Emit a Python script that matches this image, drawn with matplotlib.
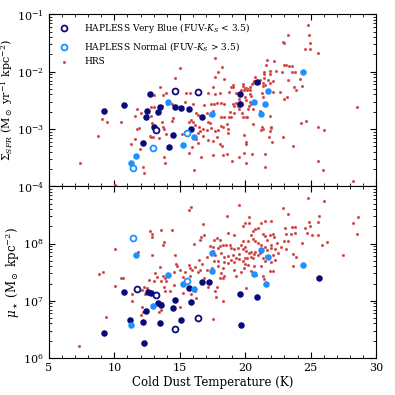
import numpy as np
import matplotlib
matplotlib.use("Agg")
import matplotlib.pyplot as plt
from matplotlib.ticker import MultipleLocator, LogLocator, NullFormatter

plt.rcParams['font.family'] = 'DejaVu Serif'
plt.rcParams['mathtext.fontset'] = 'dejavuserif'

# HAPLESS very blue (FUV-Ks < 3.5), filled and open
vb_t_sfr = [9.18, 10.77, 12.74, 12.51, 12.41, 13.31, 13.49, 13.03, 12.18, 14.18,
            14.51, 14.64, 15.08, 15.67, 15.85, 16.72, 19.62, 19.59, 20.87]
vb_sfr = [2.1e-3, 2.6e-3, 4.1e-3, 2.1e-3, 1.6e-3, 1.95e-3, 2.4e-3, 1.07e-3, 5.6e-4, 4.8e-4,
          7.9e-4, 2.4e-3, 2.35e-3, 2.2e-3, 1.0e-3, 1.6e-3, 4.1e-3, 2.7e-3, 6.7e-3]
vb_open_t_sfr = [14.62, 16.36, 13.18]
vb_open_sfr = [4.6e-3, 4.4e-3, 9.5e-4]

vb_t_mu = [9.2, 10.77, 11.18, 12.15, 12.26, 12.44, 12.54, 12.77, 13.31, 13.54, 14.64,
           14.51, 13.49, 15.08, 15.67, 15.85, 16.69, 17.26, 19.59, 19.64, 20.87, 25.64]
vb_mu = [2.7e6, 1.4e7, 4.6e6, 4.3e6, 1.8e6, 6.7e6, 1.4e7, 1.37e7, 9.3e6, 8.3e6, 1.05e7,
         7.4e6, 4.1e6, 4.6e6, 1.7e7, 9.6e6, 2.1e7, 2.1e7, 1.3e7, 3.7e6, 1.15e7, 2.5e7]
vb_open_t_mu = [11.69, 13.18, 16.36, 14.62]
vb_open_mu = [1.6e7, 1.26e7, 5.0e6, 3.2e6]

# HAPLESS normal (FUV-Ks > 3.5)
nm_t_sfr = [14.1, 11.28, 11.64, 15.28, 16.05, 17.49, 20.69, 21.74, 21.54, 21.23, 24.44]
nm_sfr = [2.9e-3, 2.6e-4, 3.4e-4, 5.2e-4, 7.3e-4, 1.8e-3, 3.0e-3, 4.6e-3, 2.7e-3, 1.8e-3, 9.8e-3]
nm_open_t_sfr = [11.46, 12.92, 15.54]
nm_open_sfr = [2.1e-4, 4.7e-4, 8.7e-4]

nm_t_mu = [11.67, 11.28, 12.95, 14.13, 15.28, 16.1, 17.44, 17.49, 20.69, 21.23, 21.74, 21.56, 24.44]
nm_mu = [6.2e7, 3.8e6, 8.2e6, 2.8e7, 2.0e7, 1.6e7, 6.9e7, 3.3e7, 2.9e7, 7.8e7, 5.8e7, 1.95e7, 4.3e7]
nm_open_t_mu = [11.46, 15.54]
nm_open_mu = [1.26e8, 2.2e7]

# HRS sample, SFR surface density
hrs_t_sfr = [
    24.77, 23.28, 24.87, 22.92, 23.0, 24.95, 24.97, 24.54, 25.59, 17.72, 21.67, 22.2, 21.56,
    23.15, 22.97, 23.36, 23.56, 18.2, 21.92, 22.38, 22.82, 23.54, 23.8, 17.9, 21.44, 21.46,
    21.92, 20.72, 21.44, 21.13, 21.72, 22.1, 23.28, 18.41, 24.18, 20.64, 20.56, 20.49, 21.05,
    21.38, 21.33, 21.54, 21.92, 19.8, 19.8, 19.05, 18.92, 19.1, 20.05, 19.95, 20.23, 20.38,
    20.15, 19.9, 20.33, 17.54, 23.72, 24.31, 17.67, 18.1, 19.31, 18.77, 19.64, 20.36, 20.44,
    21.28, 22.64, 22.15, 23.87, 21.33, 23.23, 22.95, 19.49, 19.95, 20.05, 19.62, 19.26, 19.05,
    19.18, 19.44, 19.77, 20.26, 19.56, 18.36, 18.18, 17.39, 17.87, 17.62, 20.33, 20.41, 20.23,
    20.62, 17.51, 18.8, 19.13, 18.74, 18.92, 18.13, 18.38, 19.82, 20.03, 20.15, 19.72, 21.15,
    21.9, 20.56, 18.62, 18.18, 18.33, 18.69, 17.39, 17.72, 17.95, 18.72, 17.85, 21.26, 21.33,
    21.95, 22.0, 21.23, 21.9, 24.28, 24.62, 25.59, 26.03, 20.03, 19.87, 20.08, 21.8, 22.87,
    22.08, 23.62, 18.08, 18.26, 17.54, 18.28, 18.64, 19.87, 19.49, 20.54, 19.0, 20.05, 21.49,
    21.49, 25.59, 25.97, 28.26, 28.54,
    15.03, 14.64, 17.72, 13.51, 13.03, 13.74, 13.97, 15.46, 15.79, 17.15, 11.72, 12.77, 13.03,
    12.03, 12.38, 13.67, 14.05, 14.44, 15.41, 16.0, 16.82, 16.26, 16.41, 17.1, 17.28, 9.08,
    9.46, 10.51, 11.56, 12.41, 12.79, 14.46, 14.38, 15.82, 15.72, 16.03, 17.15, 17.33, 12.85,
    13.67, 13.74, 13.82, 11.69, 11.9, 16.13, 16.44, 17.1, 16.74, 16.56, 16.36, 16.77, 13.36,
    13.97, 15.13, 15.46, 12.72, 12.82, 12.95, 13.38, 8.74, 11.54, 17.51, 17.15, 16.23, 16.41,
    11.26, 15.97, 11.95, 15.74, 16.64, 13.79, 13.87, 12.15, 12.26, 16.1, 7.36, 10.03]
hrs_sfr = [
    6.6e-2, 4.3e-2, 4.4e-2, 3.3e-2, 3.1e-2, 3.2e-2, 2.5e-2, 2.5e-2, 2.1e-2, 1.7e-2, 1.6e-2,
    1.56e-2, 1.3e-2, 1.33e-2, 1.3e-2, 1.26e-2, 1.26e-2, 1.2e-2, 1.02e-2, 1.02e-2, 1.0e-2,
    1.0e-2, 1.0e-2, 9.7e-3, 1.0e-2, 9.1e-3, 9.1e-3, 8.0e-3, 7.7e-3, 7.2e-3, 7.2e-3, 6.8e-3,
    7.2e-3, 7.4e-3, 7.5e-3, 6.9e-3, 6.4e-3, 6.1e-3, 6.3e-3, 6.4e-3, 5.6e-3, 5.8e-3, 6.3e-3,
    6.1e-3, 5.6e-3, 5.8e-3, 5.5e-3, 5.4e-3, 5.1e-3, 5.1e-3, 5.0e-3, 5.4e-3, 4.8e-3, 4.7e-3,
    4.7e-3, 5.5e-3, 5.4e-3, 5.6e-3, 4.1e-3, 4.2e-3, 4.2e-3, 4.4e-3, 4.7e-3, 4.0e-3, 3.7e-3,
    4.2e-3, 4.4e-3, 4.4e-3, 4.7e-3, 3.6e-3, 3.6e-3, 3.3e-3, 3.3e-3, 3.6e-3, 3.2e-3, 2.9e-3,
    2.8e-3, 2.7e-3, 2.5e-3, 2.5e-3, 2.7e-3, 2.5e-3, 2.2e-3, 2.7e-3, 2.8e-3, 2.7e-3, 2.8e-3,
    2.7e-3, 3.0e-3, 2.7e-3, 2.2e-3, 2.2e-3, 2.1e-3, 2.0e-3, 1.9e-3, 1.6e-3, 1.65e-3, 1.6e-3,
    1.6e-3, 1.65e-3, 1.6e-3, 1.65e-3, 1.9e-3, 2.1e-3, 1.7e-3, 1.2e-3, 1.2e-3, 1.15e-3, 1.1e-3,
    1.0e-3, 1.05e-3, 9.1e-4, 9.8e-4, 8.5e-4, 7.3e-4, 1.1e-3, 1.0e-3, 1.05e-3, 1.1e-3, 9.5e-4,
    9.1e-4, 1.26e-3, 1.4e-3, 1.07e-3, 9.8e-4, 6.0e-4, 7.9e-4, 5.4e-4, 7.2e-4, 7.4e-4, 5.9e-4,
    5.1e-4, 5.4e-4, 5.1e-4, 3.5e-4, 3.5e-4, 3.7e-4, 3.8e-4, 3.3e-4, 3.7e-4, 2.8e-4, 2.6e-4,
    3.7e-4, 2.2e-4, 2.8e-4, 1.9e-4, 1.23e-4, 2.45e-3,
    1.18e-2, 7.7e-3, 8.2e-3, 5.3e-3, 3.9e-3, 3.9e-3, 4.2e-3, 4.3e-3, 4.3e-3, 4.2e-3, 2.2e-3,
    2.4e-3, 2.4e-3, 1.9e-3, 2.0e-3, 2.5e-3, 2.75e-3, 2.75e-3, 2.9e-3, 2.75e-3, 2.6e-3,
    1.9e-3, 1.75e-3, 1.9e-3, 1.75e-3, 1.5e-3, 1.34e-3, 1.34e-3, 1.7e-3, 1.53e-3, 1.7e-3,
    1.55e-3, 1.4e-3, 1.45e-3, 1.3e-3, 1.35e-3, 1.35e-3, 1.27e-3, 1.27e-3, 1.3e-3, 1.1e-3,
    1.0e-3, 1.0e-3, 1.05e-3, 1.17e-3, 1.08e-3, 9.7e-4, 9.9e-4, 9.3e-4, 8.7e-4, 7.6e-4, 9.7e-4,
    8.3e-4, 8.3e-4, 9.3e-4, 7.7e-4, 7.3e-4, 7.3e-4, 6.9e-4, 7.7e-4, 6.7e-4, 6.1e-4, 6.5e-4,
    6.7e-4, 5.7e-4, 5.5e-4, 4.9e-4, 4.5e-4, 3.9e-4, 3.3e-4, 3.3e-4, 2.6e-4, 2.2e-4, 1.7e-4,
    1.9e-4, 2.6e-4, 1.06e-4]

# HRS sample, stellar mass surface density
hrs_t_mu = [
    15.85, 15.72, 16.77, 12.74, 12.9, 13.56, 14.38, 12.85, 13.82, 13.69, 16.08, 16.62, 16.56,
    16.87, 17.31, 10.05, 11.77, 12.87, 14.62, 17.51, 16.49, 16.69, 17.1, 13.51, 14.69, 14.77,
    15.67, 15.77, 16.15, 16.51, 16.36, 17.08, 17.46, 8.82, 9.1, 10.49, 10.67, 13.1, 13.28,
    13.69, 13.87, 12.67, 13.03, 13.54, 13.95, 14.59, 15.03, 15.41, 15.26, 15.77, 15.97, 16.85,
    17.15, 12.28, 12.31, 11.38, 11.31, 12.13, 12.46, 13.23, 13.82, 13.87, 14.26, 14.54, 15.28,
    15.82, 16.13, 16.23, 13.41, 13.56, 13.64, 15.0, 9.36, 12.13, 12.21, 12.0, 10.05, 7.33,
    24.77, 26.03, 19.51, 22.85, 23.26, 18.62, 20.28, 25.62, 20.28, 20.0, 21.23, 21.49, 22.0,
    25.59, 28.59, 28.26, 20.98, 20.72, 23.03, 23.59, 23.8, 24.56, 24.95, 24.9, 19.8, 20.59,
    19.18, 18.72, 17.85, 17.64, 18.1, 18.51, 18.31, 18.1, 17.9, 17.54, 18.85, 18.92, 20.46,
    20.56, 21.36, 21.49, 21.87, 21.67, 22.15, 22.23, 22.41, 22.95, 23.28, 23.08, 23.49, 23.8,
    24.69, 25.08, 25.54, 24.31, 25.85, 26.23, 28.56, 22.77, 23.15, 22.0, 22.26, 21.49, 21.69,
    21.95, 21.23, 20.98, 20.72, 20.21, 19.8, 19.69, 19.95, 19.82, 19.44, 19.18, 20.08, 20.26,
    20.46, 20.77, 20.67, 20.98, 21.13, 21.36, 21.49, 21.62, 22.13, 22.51, 22.26, 21.95, 23.67,
    23.92, 27.46, 23.62, 19.56, 19.05, 19.31, 18.67, 18.36, 18.15, 17.69, 17.59, 17.9, 18.41,
    18.67, 18.92, 19.18, 19.51, 19.82, 20.0, 20.15, 20.41, 20.59, 19.95, 20.21, 20.67, 19.9,
    19.13, 19.69, 19.31, 18.28, 18.15, 18.41, 17.9, 20.46, 20.8, 21.18, 21.87, 22.13, 21.36,
    21.44, 18.28, 18.1, 17.85, 17.69, 20.08, 17.77, 18.28, 17.51]
hrs_mu = [
    4.3e8, 3.8e8, 2.2e8, 1.64e8, 1.5e8, 1.73e8, 1.73e8, 1.3e8, 1.07e8, 9.6e7, 1.0e8, 1.32e8,
    1.17e8, 1.4e8, 8.9e7, 8.1e7, 7.1e7, 6.3e7, 6.4e7, 7.4e7, 5.1e7, 4.4e7, 5.8e7, 3.9e7,
    4.4e7, 4.1e7, 4.2e7, 3.7e7, 3.9e7, 3.5e7, 3.2e7, 3.5e7, 3.8e7, 2.9e7, 3.2e7, 2.5e7,
    2.5e7, 3.0e7, 2.6e7, 2.7e7, 2.5e7, 2.3e7, 2.2e7, 2.2e7, 2.2e7, 3.2e7, 3.4e7, 3.2e7,
    2.6e7, 2.7e7, 3.4e7, 2.5e7, 1.75e7, 1.75e7, 1.3e7, 1.3e7, 9.7e6, 1.57e7, 1.66e7, 1.3e7,
    1.75e7, 1.5e7, 1.5e7, 1.9e7, 1.34e7, 1.3e7, 1.5e7, 1.1e7, 6.4e6, 6.9e6, 9.0e6, 7.9e6,
    5.1e6, 7.9e6, 6.3e6, 5.6e6, 1.8e7, 1.6e6,
    6.2e8, 5.5e8, 4.75e8, 4.2e8, 3.3e8, 3.1e8, 2.9e8, 3.06e8, 2.3e8, 2.3e8, 2.3e8, 2.45e8,
    2.5e8, 2.4e8, 2.9e8, 2.3e8, 1.87e8, 1.8e8, 1.9e8, 1.95e8, 1.95e8, 1.9e8, 2.0e8, 2.4e8,
    2.0e8, 1.64e8, 1.4e8, 1.53e8, 1.25e8, 1.17e8, 1.17e8, 9.6e7, 9.4e7, 9.0e7, 8.4e7, 8.6e7,
    9.6e7, 8.4e7, 1.4e8, 1.2e8, 1.47e8, 1.34e8, 1.43e8, 1.17e8, 1.47e8, 1.3e8, 1.03e8,
    1.13e8, 1.13e8, 1.47e8, 1.47e8, 1.53e8, 1.53e8, 1.43e8, 1.43e8, 1.03e8, 9.6e7, 1.07e8,
    1.47e8, 8.6e7, 7.9e7, 9.6e7, 7.9e7, 8.6e7, 7.7e7, 8.4e7, 9.4e7, 1.03e8, 1.1e8, 1.1e8,
    1.1e8, 9.6e7, 8.6e7, 7.9e7, 8.4e7, 7.9e7, 7.4e7, 6.9e7, 7.2e7, 7.2e7, 6.6e7, 6.4e7,
    6.8e7, 5.6e7, 4.9e7, 6.0e7, 6.3e7, 6.9e7, 5.1e7, 4.7e7, 6.6e7, 5.8e7, 6.4e7, 4.0e7,
    6.6e7, 6.3e7, 5.6e7, 6.0e7, 5.9e7, 6.9e7, 6.3e7, 4.9e7, 4.9e7, 4.8e7, 4.6e7, 5.1e7,
    4.8e7, 5.3e7, 4.9e7, 5.5e7, 5.6e7, 5.8e7, 5.6e7, 4.4e7, 4.2e7, 4.0e7, 3.7e7, 3.4e7,
    3.2e7, 2.7e7, 3.7e7, 3.1e7, 2.7e7, 4.0e7, 3.3e7, 2.8e7, 4.0e7, 3.3e7, 3.3e7, 2.7e7,
    2.4e7, 2.5e7, 2.5e7, 1.75e7, 1.5e7, 1.7e7, 1.14e7, 1.0e7, 4.7e6]

navy = '#0a0a7a'
light = '#1e90ff'
red = '#c83030'


def draw_panel(ax, hrs_t, hrs_v, vb_t, vb_v, vbo_t, vbo_v, nm_t, nm_v, nmo_t, nmo_v):
    ax.scatter(hrs_t, hrs_v, s=4, color=red, edgecolors='#e08080', linewidths=0.3,
               label='HRS', zorder=2)
    ax.scatter(vb_t, vb_v, s=22, color=navy, linewidths=0, zorder=3)
    ax.scatter(nm_t, nm_v, s=22, color=light, linewidths=0, zorder=3)
    ax.scatter(vbo_t, vbo_v, s=18, facecolors='white', edgecolors=navy, linewidths=1.3,
               zorder=4, label=r'HAPLESS Very Blue (FUV-$K_S$ < 3.5)')
    ax.scatter(nmo_t, nmo_v, s=18, facecolors='white', edgecolors=light, linewidths=1.3,
               zorder=4, label=r'HAPLESS Normal (FUV-$K_S$ > 3.5)')
    ax.set_yscale('log')
    ax.set_xlim(5, 30)
    ax.xaxis.set_major_locator(MultipleLocator(5))
    ax.xaxis.set_minor_locator(MultipleLocator(1))
    ax.yaxis.set_major_locator(LogLocator(base=10))
    ax.yaxis.set_minor_locator(LogLocator(base=10, subs=np.arange(2, 10)))
    ax.yaxis.set_minor_formatter(NullFormatter())
    ax.tick_params(which='both', direction='in', top=True, right=True, labelsize=8)
    ax.tick_params(which='major', length=4)
    ax.tick_params(which='minor', length=2)


fig = plt.figure(figsize=(3.95, 3.95), dpi=100)
ax1 = fig.add_axes([0.124, 0.528, 0.828, 0.436])
ax2 = fig.add_axes([0.124, 0.094, 0.828, 0.434])

draw_panel(ax1, hrs_t_sfr, hrs_sfr, vb_t_sfr, vb_sfr, vb_open_t_sfr, vb_open_sfr,
           nm_t_sfr, nm_sfr, nm_open_t_sfr, nm_open_sfr)
draw_panel(ax2, hrs_t_mu, hrs_mu, vb_t_mu, vb_mu, vb_open_t_mu, vb_open_mu,
           nm_t_mu, nm_mu, nm_open_t_mu, nm_open_mu)

ax1.set_ylim(1e-4, 1e-1)
ax2.set_ylim(1e6, 1e9)
ax1.tick_params(labelbottom=False)
ax2.set_yticks([1e6, 1e7, 1e8])

ax1.set_ylabel(r'$\Sigma_{SFR}$ (M$_\odot$ yr$^{-1}$ kpc$^{-2}$)', fontsize=8, labelpad=1)
ax2.set_ylabel(r'$\mu_\star$ (M$_\odot$ kpc$^{-2}$)', fontsize=8.5, labelpad=1)
ax2.set_xlabel('Cold Dust Temperature (K)', fontsize=8.5, labelpad=2)

handles, labels = ax1.get_legend_handles_labels()
order = [1, 2, 0]
ax1.legend([handles[i] for i in order], [labels[i] for i in order], loc='upper left',
           frameon=False, fontsize=6.5, handletextpad=1.2, borderaxespad=0.3,
           labelspacing=0.55, scatterpoints=1)

fig.savefig('out.png', dpi=100)
